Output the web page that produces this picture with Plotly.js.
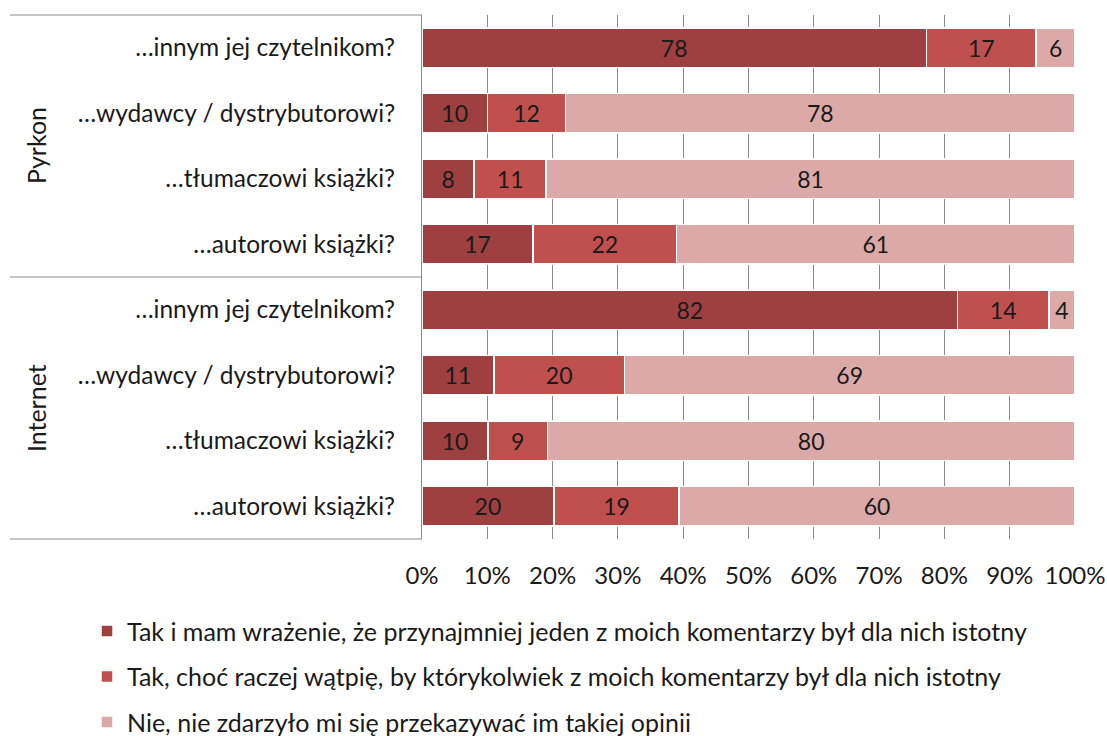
<!DOCTYPE html>
<html>
<head>
<meta charset="utf-8">
<script src="https://cdn.plot.ly/plotly-3.0.1.min.js"></script>
<style>html,body{margin:0;padding:0;background:#fff;}#chart{width:1107px;height:736px;}</style>
</head>
<body>
<div id="chart"></div>
<script>
// Data
const groups = ['Pyrkon', 'Internet'];
const questions = ['…innym jej czytelnikom?', '…wydawcy / dystrybutorowi?', '…tłumaczowi książki?', '…autorowi książki?'];
const seriesNames = [
  'Tak i mam wrażenie, że przynajmniej jeden z moich komentarzy był dla nich istotny',
  'Tak, choć raczej wątpię, by którykolwiek z moich komentarzy był dla nich istotny',
  'Nie, nie zdarzyło mi się przekazywać im takiej opinii'
];
// rows: Pyrkon (4 questions), then Internet (4 questions)
const takIstotny = [78, 10, 8, 17, 82, 11, 10, 20];
const takWatpie  = [17, 12, 11, 22, 14, 20, 9, 19];
const nie        = [6, 78, 81, 61, 4, 69, 80, 60];
const xTickLabels = ['0%','10%','20%','30%','40%','50%','60%','70%','80%','90%','100%'];

const colors = ['#9D403F', '#C0504D', '#DAA9A8'];
const FONT = 'Lato, "Open Sans", sans-serif';
const TXT = '#1a1a1a';

const rowLabels = [];
const rowIdx = [];
groups.forEach((g, gi) => questions.forEach((q, qi) => { rowLabels.push(q); rowIdx.push(gi * questions.length + qi); }));

const seriesVals = [takIstotny, takWatpie, nie];
const traces = seriesVals.map((vals, i) => ({
  type: 'bar',
  orientation: 'h',
  name: seriesNames[i],
  legendgroup: 'g' + i,
  x: vals,
  y: rowIdx,
  text: vals.map(String),
  textposition: 'inside',
  insidetextanchor: 'middle',
  constraintext: 'none',
  textangle: 0,
  textfont: {family: FONT, size: 23, color: TXT},
  marker: {color: colors[i], line: {color: '#ffffff', width: 1.5}},
  hoverinfo: 'x+y+name'
}));

const xl = -0.631;
const layout = {
  width: 1107, height: 736,
  margin: {l: 422, r: 32, t: 15, b: 197, autoexpand: false},
  paper_bgcolor: '#fff', plot_bgcolor: '#fff',
  barmode: 'stack',
  barnorm: 'percent',
  bargap: 0.39,
  font: {family: FONT, size: 24, color: TXT},
  xaxis: {
    range: [0, 100],
    tickvals: xTickLabels.map((_, i) => i * 10),
    ticktext: xTickLabels,
    showgrid: true, gridcolor: '#8c8c8c', gridwidth: 1,
    zeroline: false, showline: false,
    ticks: '', ticklabelstandoff: 20,
    tickfont: {family: FONT, size: 24, color: TXT}
  },
  yaxis: {
    range: [7.5, -0.5],
    tickvals: rowIdx,
    ticktext: rowLabels,
    showgrid: false, zeroline: false,
    showline: true, linecolor: '#8c8c8c', linewidth: 1,
    ticks: '', ticklabelstandoff: 21,
    tickfont: {family: FONT, size: 24.5, color: TXT}
  },
  showlegend: true,
  legend: {
    orientation: 'v',
    x: -0.513, xanchor: 'left',
    y: -0.132, yanchor: 'top',
    traceorder: 'grouped',
    tracegroupgap: 10,
    font: {family: FONT, size: 25, color: TXT},
    itemclick: false
  },
  annotations: groups.map((g, gi) => ({
    text: g, xref: 'paper', yref: 'paper',
    x: -0.591, xanchor: 'center', yanchor: 'middle',
    y: 1 - (gi + 0.5) / groups.length,
    textangle: -90, showarrow: false,
    font: {family: FONT, size: 25, color: TXT}
  })),
  shapes: [0, 0.5, 1].map(yy => ({
    type: 'line', xref: 'paper', yref: 'paper',
    x0: xl, x1: 0, y0: yy, y1: yy,
    line: {color: '#8c8c8c', width: 1}
  }))
};

Plotly.newPlot('chart', traces, layout, {displayModeBar: false, staticPlot: true});
</script>
</body>
</html>
